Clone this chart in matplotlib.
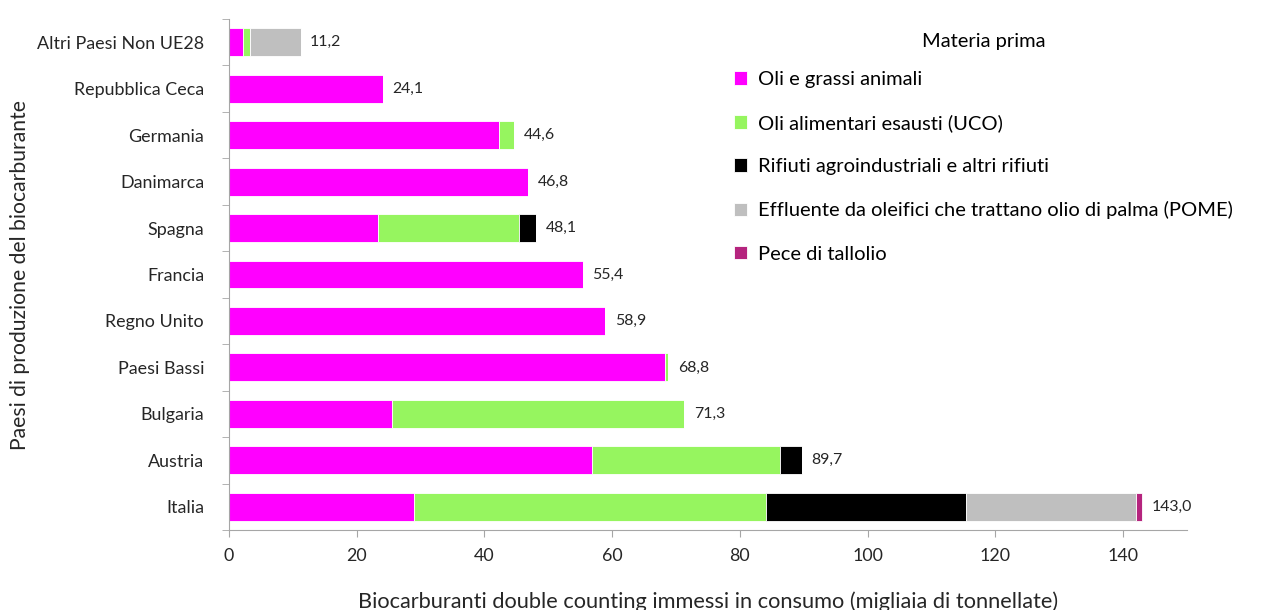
import matplotlib.pyplot as plt
import numpy as np

paesi = ['Italia', 'Austria', 'Bulgaria', 'Paesi Bassi', 'Regno Unito', 'Francia',
         'Spagna', 'Danimarca', 'Germania', 'Repubblica Ceca', 'Altri Paesi Non UE28']
materie = ['Oli e grassi animali', 'Oli alimentari esausti (UCO)',
           'Rifiuti agroindustriali e altri rifiuti',
           'Effluente da oleifici che trattano olio di palma (POME)',
           'Pece di tallolio']
oli_grassi = [28.9, 56.8, 25.6, 68.2, 58.9, 55.4, 23.4, 46.8, 42.2, 24.1, 2.2]
uco = [55.2, 29.4, 45.7, 0.6, 0, 0, 22.0, 0, 2.4, 0, 1.1]
rifiuti = [31.3, 3.5, 0, 0, 0, 0, 2.7, 0, 0, 0, 0]
pome = [26.6, 0, 0, 0, 0, 0, 0, 0, 0, 0, 7.9]
tallolio = [1.0, 0, 0, 0, 0, 0, 0, 0, 0, 0, 0]
totali = ['143,0', '89,7', '71,3', '68,8', '58,9', '55,4', '48,1', '46,8', '44,6', '24,1', '11,2']

colori = ['#FF00FF', '#96F55F', '#000000', '#BFBFBF', '#B5247E']

plt.rcParams['font.family'] = ['Lato', 'DejaVu Sans']

fig = plt.figure(figsize=(12.74, 6.10), dpi=100)
ax = fig.add_axes([229 / 1274, 1 - 530 / 610, (1187 - 229) / 1274, (530 - 19) / 610])

y = np.arange(len(paesi))
left = np.zeros(len(paesi))
serie = [oli_grassi, uco, rifiuti, pome, tallolio]
for valori, nome, col in zip(serie, materie, colori):
    v = np.array(valori)
    ax.barh(y, v, left=left, height=0.6, color=col, edgecolor='white', linewidth=0.6, label=nome)
    left += v

for i, txt in enumerate(totali):
    ax.text(left[i] + 1.5, y[i], txt, va='center', ha='left', fontsize=11.4, color='#262626')

ax.set_xlim(0, 150)
ax.set_ylim(-0.5, len(paesi) - 0.5)
ax.set_yticks(y)
ax.set_yticklabels(paesi, fontsize=12.9)
ax.set_xticks(np.arange(0, 141, 20))
ax.tick_params(axis='x', labelsize=12.9, colors='#262626', length=5, color='#A6A6A6', pad=8)
ax.tick_params(axis='y', colors='#262626', length=0, pad=18)
ax.set_yticks(np.arange(-0.5, len(paesi)), minor=True)
ax.tick_params(axis='y', which='minor', length=5, color='#A6A6A6')

for s in ['top', 'right']:
    ax.spines[s].set_visible(False)
ax.spines['left'].set_color('#A6A6A6')
ax.spines['bottom'].set_color('#A6A6A6')

ax.set_xlabel('Biocarburanti double counting immessi in consumo (migliaia di tonnellate)',
              fontsize=15.7, color='#262626', labelpad=20)
ax.set_ylabel('Paesi di produzione del biocarburante', fontsize=15.2, color='#262626')
ax.yaxis.set_label_coords(-0.208, 0.5)

leg = ax.legend(loc='upper left', bbox_to_anchor=(0.508, 1.008), frameon=False,
                title='Materia prima', fontsize=14.5, title_fontsize=14.5,
                handlelength=0.65, handleheight=0.65, labelspacing=1.3, handletextpad=0.55)
leg._legend_box.align = 'center'
leg._legend_box.sep = 15

fig.savefig('out.png', dpi=100)
